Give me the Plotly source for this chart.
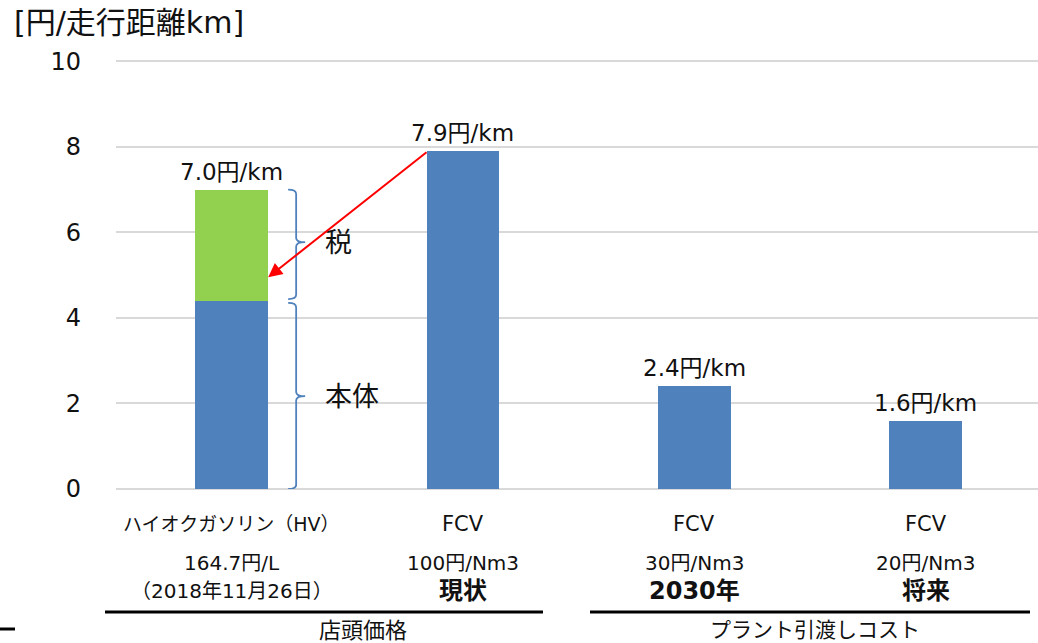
import plotly.graph_objects as go

# ---- data ----
positions = [0, 1, 2, 3]
base_values = [4.4, 7.9, 2.4, 1.6]      # 本体 / FCV cost
tax_values = [2.6, 0, 0, 0]             # 税
total_labels = ["7.0円/km", "7.9円/km", "2.4円/km", "1.6円/km"]
row1 = ["ハイオクガソリン（HV）", "FCV", "FCV", "FCV"]
row2 = ["164.7円/L", "100円/Nm3", "30円/Nm3", "20円/Nm3"]
row3 = ["（2018年11月26日）", "<b>現状</b>", "<b>2030年</b>", "<b>将来</b>"]
groups = ["店頭価格", "プラント引渡しコスト"]
y_ticks = [0, 2, 4, 6, 8, 10]

FONT = "DejaVu Sans, Noto Sans CJK JP"
BLUE = "#4F81BD"
GREEN = "#92D050"
TXT = "#111111"

W, H = 1038, 643
YMAX = 10.03
UNIT = 42.8
L, R, B = 116, 0, 154
T = round(489 - YMAX * UNIT)
PW, PH = W - L - R, H - T - B


def px_x(p):
    return (p - L) / PW


def px_y(p):
    return (H - B - p) / PH


fig = go.Figure()
fig.add_trace(go.Bar(x=positions, y=base_values, marker_color=BLUE, width=0.315,
                     marker_line_width=0, showlegend=False, hoverinfo="y"))
fig.add_trace(go.Bar(x=positions, y=tax_values, marker_color=GREEN, width=0.315,
                     marker_line_width=0, showlegend=False, hoverinfo="y"))

ann = []
totals = [b + t for b, t in zip(base_values, tax_values)]
for x, tot, lab in zip(positions, totals, total_labels):
    ann.append(dict(x=x, y=tot, text=lab, showarrow=False, yanchor="bottom",
                    xanchor="center", yshift=3, font=dict(size=23, color=TXT)))

for x, a, b, c in zip(positions, row1, row2, row3):
    ann.append(dict(x=x, y=px_y(524), yref="paper", yanchor="middle", xanchor="center",
                    text=a, showarrow=False,
                    font=dict(size=19 if x == 0 else 21, color=TXT)))
    ann.append(dict(x=x, y=px_y(563), yref="paper", yanchor="middle", xanchor="center",
                    text=b, showarrow=False, font=dict(size=20, color=TXT)))
    ann.append(dict(x=x, y=px_y(591), yref="paper", yanchor="middle", xanchor="center",
                    text=c, showarrow=False,
                    font=dict(size=20 if x == 0 else 24, color=TXT)))

ann.append(dict(x=px_x(363), xref="paper", y=px_y(630), yref="paper", yanchor="middle",
                xanchor="center", text=groups[0], showarrow=False,
                font=dict(size=22, color=TXT)))
ann.append(dict(x=px_x(815), xref="paper", y=px_y(630), yref="paper", yanchor="middle",
                xanchor="center", text=groups[1], showarrow=False,
                font=dict(size=21, color=TXT)))

ann.append(dict(x=px_x(12), xref="paper", y=px_y(23), yref="paper", yanchor="middle",
                text="[円/走行距離km]", xanchor="left", showarrow=False,
                font=dict(size=30, color=TXT)))

ann.append(dict(x=px_x(323), xref="paper", y=5.77, yanchor="middle", text="税",
                xanchor="left", showarrow=False, font=dict(size=27, color=TXT)))
ann.append(dict(x=px_x(323), xref="paper", y=2.17, yanchor="middle", text="本体",
                xanchor="left", showarrow=False, font=dict(size=27, color=TXT)))

# red arrow
ann.append(dict(x=0.158, y=4.95, ax=0.849, ay=7.9, axref="x", ayref="y",
                text="", showarrow=True, arrowhead=2, arrowsize=1.4, arrowwidth=2,
                arrowcolor="#FF0000"))


def xd(p):
    return (p - 231.5) / 231.33


def brace(top, mid, bot):
    x0, x1, x2 = xd(288), xd(296), xd(305)
    e = 0.1
    return (f"M {x0},{top} Q {x1},{top} {x1},{top - e} L {x1},{mid + e} "
            f"Q {x1},{mid} {x2},{mid} Q {x1},{mid} {x1},{mid - e} "
            f"L {x1},{bot + e} Q {x1},{bot} {x0},{bot}")


shapes = [
    dict(type="path", path=brace(7.0, 5.77, 4.44), xref="x", yref="y",
         line=dict(color=BLUE, width=1.8)),
    dict(type="path", path=brace(4.35, 2.17, 0.0), xref="x", yref="y",
         line=dict(color=BLUE, width=1.8)),
    dict(type="line", xref="paper", yref="paper", x0=px_x(105), x1=px_x(543),
         y0=px_y(612), y1=px_y(612), line=dict(color="black", width=3)),
    dict(type="line", xref="paper", yref="paper", x0=px_x(590), x1=px_x(1030),
         y0=px_y(612), y1=px_y(612), line=dict(color="black", width=3)),
    dict(type="line", xref="paper", yref="paper", x0=px_x(0), x1=px_x(15),
         y0=px_y(629), y1=px_y(629), line=dict(color="black", width=3)),
]

fig.update_layout(
    width=W, height=H, barmode="stack",
    margin=dict(l=L, r=R, t=T, b=B, autoexpand=False),
    paper_bgcolor="white", plot_bgcolor="white",
    font=dict(family=FONT, color=TXT),
    annotations=ann, shapes=shapes,
    xaxis=dict(range=[-0.5, 3.486], showticklabels=False, showgrid=False,
               zeroline=False, showline=False, fixedrange=True),
    yaxis=dict(range=[0, YMAX], tickvals=y_ticks, ticktext=[str(v) for v in y_ticks],
               showgrid=True, gridcolor="#D9D9D9", gridwidth=1.5,
               zeroline=True, zerolinecolor="#D9D9D9", zerolinewidth=1.5,
               showline=False, ticks="", ticklabelstandoff=34,
               tickfont=dict(size=24, color=TXT), fixedrange=True),
)

fig.write_html("out.html")
